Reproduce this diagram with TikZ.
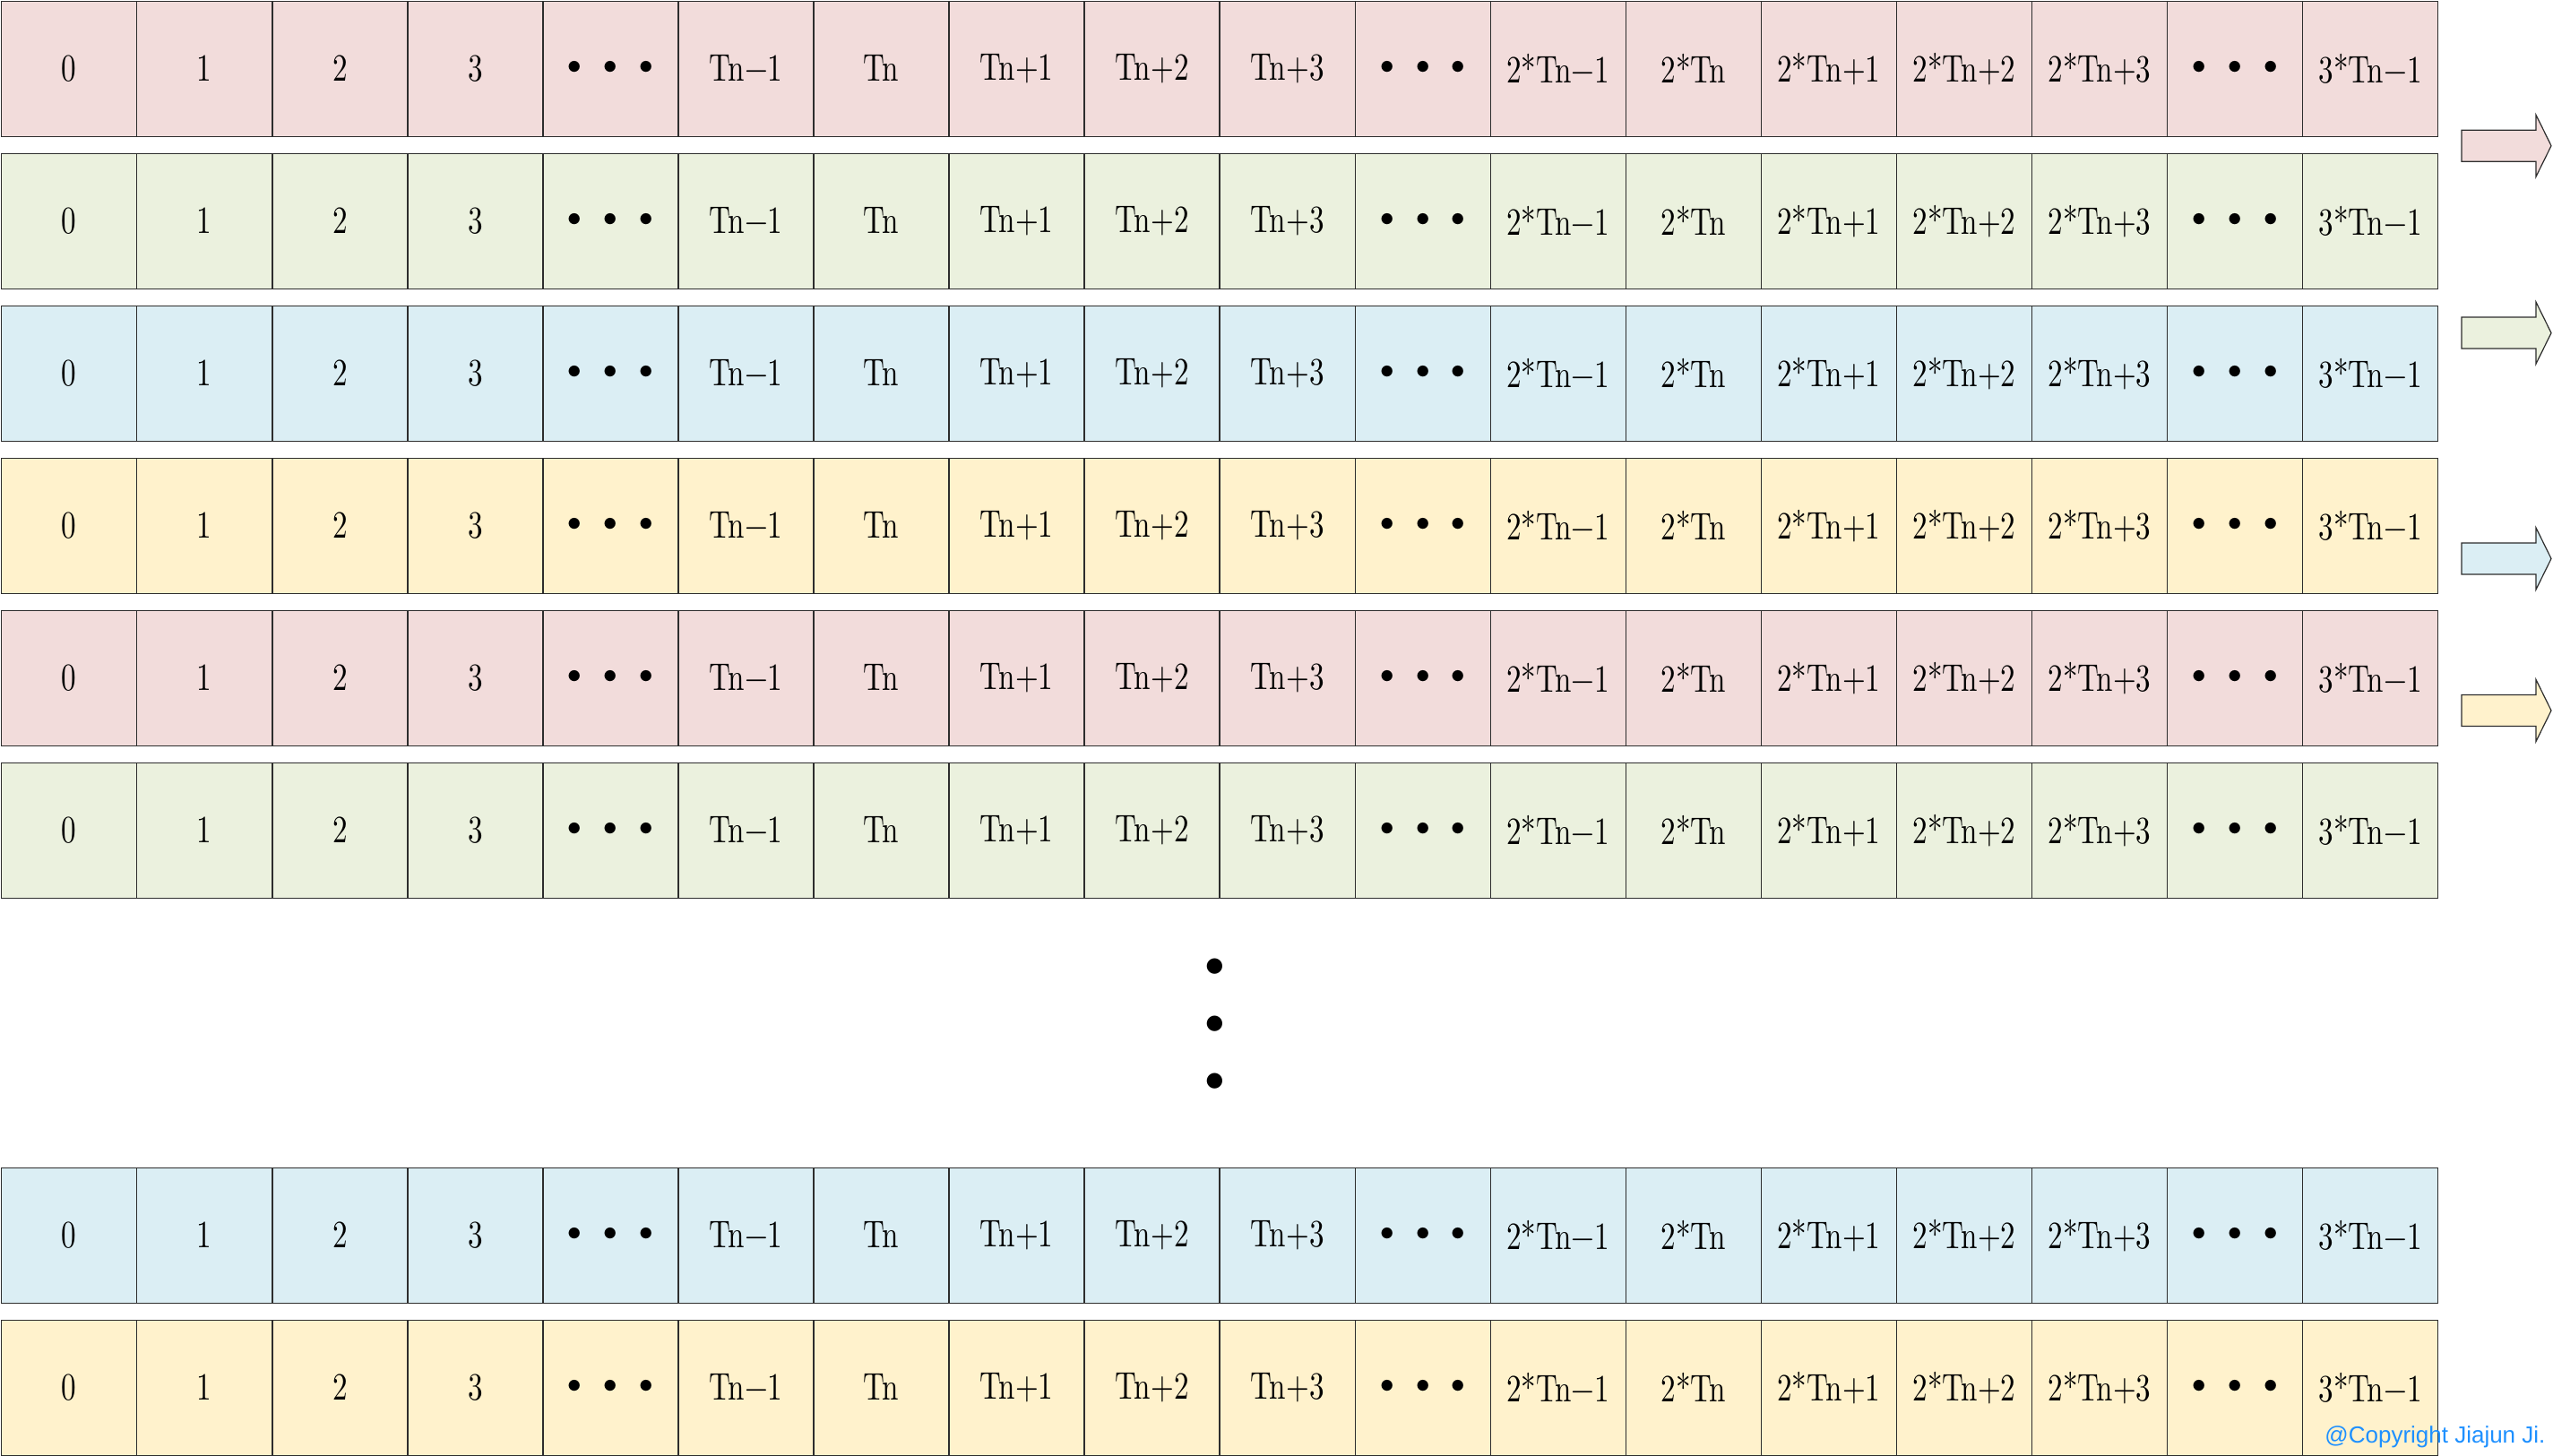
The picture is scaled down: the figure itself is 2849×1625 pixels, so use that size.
\documentclass[tikz,border=0pt]{standalone}
\usepackage{fontspec}
\setmainfont{lmroman10-regular.otf}[FakeStretch=0.77]
\newfontfamily\bulfont{lmroman10-regular.otf}
\newfontfamily\cpfont{Liberation Sans}
\definecolor{cpink}{RGB}{242,220,219}
\definecolor{cgreen}{RGB}{235,241,222}
\definecolor{cblue}{RGB}{219,238,244}
\definecolor{cyellow}{RGB}{255,242,204}
\definecolor{cline}{RGB}{45,45,45}
\definecolor{cpblue}{RGB}{30,144,255}
\newcommand{\hdots}{{\bulfont\makebox[20pt]{•}\makebox[20pt]{•}\makebox[20pt]{•}}}
\tikzset{
  cell/.style={draw=cline, line width=0.7pt, minimum width=75.525pt, minimum height=75.5pt,
    inner sep=0pt, anchor=north west, font=\fontsize{21.5}{24}\selectfont},
  bigarrow/.style={draw=cline, line width=0.6pt, line join=miter},
  vdot/.style={inner sep=0pt, font=\bulfont\fontsize{30}{30}\selectfont},
  copyr/.style={inner sep=0pt, anchor=base west, text=cpblue, font=\cpfont\fontsize{13}{15}\selectfont}
}
\begin{document}
\begin{tikzpicture}[x=0.5pt,y=-0.5pt]
\useasboundingbox (0,0) rectangle (2849,1625);
\foreach \top/\col [count=\r] in {1/cpink,171/cgreen,341/cblue,511/cyellow,681/cpink,851/cgreen,1303/cblue,1473/cyellow}{
  \foreach \lab [count=\c] in {0,1,2,3,\hdots,Tn−1,Tn,Tn+1,Tn+2,Tn+3,\hdots,2*Tn−1,2*Tn,2*Tn+1,2*Tn+2,2*Tn+3,\hdots,3*Tn−1}{
    \node[cell, fill=\col] (r\r c\c) at ({1+151.05*(\c-1)},\top) {\raisebox{1pt}{\lab}};
  }
}
% vertical dots
\node[vdot] (v1) at (1355.7,1081) {•};
\node[vdot] (v2) at (1355.7,1145) {•};
\node[vdot] (v3) at (1355.7,1209) {•};
% block arrows
\foreach \cy/\col in {162.7/cpink,371.6/cgreen,623.5/cblue,793/cyellow}{
  \path[bigarrow, fill=\col] (2747,\cy-17.5) -- (2830,\cy-17.5) -- (2830,\cy-34.5) -- (2847,\cy)
     -- (2830,\cy+34.5) -- (2830,\cy+17.5) -- (2747,\cy+17.5) -- cycle;
}
\node[copyr] (cp) at (2594,1610) {@Copyright Jiajun Ji.};
\end{tikzpicture}
\end{document}
